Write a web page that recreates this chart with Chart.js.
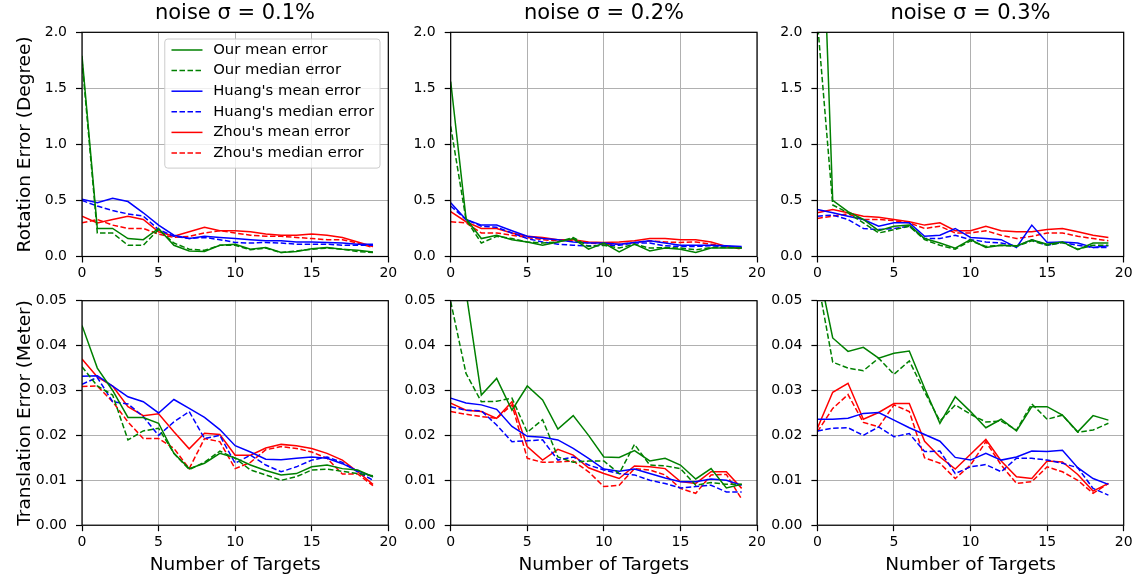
<!DOCTYPE html>
<html>
<head>
<meta charset="utf-8">
<script src="https://cdn.jsdelivr.net/npm/chart.js@4.4.0/dist/chart.umd.min.js"></script>
<style>
  body { margin: 0; background: #fff; }
  #fig { position: relative; width: 1135px; height: 579px; overflow: hidden; background: #fff; }
  #fig canvas { position: absolute; }
</style>
</head>
<body>
<div id="fig"></div>
<script>
// number of targets (x axis)
const targets = [0, 1, 2, 3, 4, 5, 6, 7, 8, 9, 10, 11, 12, 13, 14, 15, 16, 17, 18, 19];
const seriesNames = ["Our mean error", "Our median error", "Huang's mean error", "Huang's median error", "Zhou's mean error", "Zhou's median error"];
const noiseTitles = ['noise σ = 0.1%', 'noise σ = 0.2%', 'noise σ = 0.3%'];
const xTicks = [0, 5, 10, 15, 20];
const rotTicks = [0, 0.5, 1.0, 1.5, 2.0];
const transTicks = [0, 0.01, 0.02, 0.03, 0.04, 0.05];

// rotation error, noise 0.1%
const rot1OurMean = [1.79, 0.25, 0.25, 0.16, 0.15, 0.25, 0.10, 0.05, 0.045, 0.10, 0.11, 0.065, 0.08, 0.035, 0.045, 0.07, 0.08, 0.065, 0.055, 0.04];
const rot1OurMedian = [1.75, 0.21, 0.21, 0.10, 0.10, 0.24, 0.12, 0.065, 0.055, 0.10, 0.10, 0.06, 0.075, 0.035, 0.05, 0.065, 0.075, 0.065, 0.045, 0.035];
const rot1HuangMean = [0.51, 0.48, 0.52, 0.49, 0.39, 0.28, 0.19, 0.16, 0.18, 0.17, 0.16, 0.15, 0.14, 0.14, 0.13, 0.13, 0.125, 0.12, 0.11, 0.11];
const rot1HuangMedian = [0.50, 0.45, 0.41, 0.38, 0.36, 0.24, 0.18, 0.16, 0.17, 0.15, 0.125, 0.12, 0.125, 0.12, 0.11, 0.11, 0.11, 0.10, 0.10, 0.10];
const rot1ZhouMean = [0.36, 0.30, 0.33, 0.36, 0.33, 0.22, 0.18, 0.22, 0.26, 0.23, 0.23, 0.22, 0.20, 0.19, 0.19, 0.20, 0.19, 0.17, 0.13, 0.09];
const rot1ZhouMedian = [0.30, 0.33, 0.28, 0.25, 0.25, 0.20, 0.17, 0.18, 0.21, 0.23, 0.21, 0.19, 0.18, 0.18, 0.17, 0.16, 0.15, 0.15, 0.12, 0.08];

// rotation error, noise 0.2%
const rot2OurMean = [1.56, 0.34, 0.16, 0.19, 0.15, 0.13, 0.10, 0.13, 0.16, 0.065, 0.12, 0.04, 0.11, 0.05, 0.075, 0.065, 0.035, 0.075, 0.075, 0.075];
const rot2OurMedian = [1.16, 0.33, 0.12, 0.18, 0.16, 0.13, 0.12, 0.13, 0.17, 0.09, 0.10, 0.075, 0.11, 0.075, 0.08, 0.075, 0.06, 0.08, 0.08, 0.075];
const rot2HuangMean = [0.48, 0.33, 0.28, 0.28, 0.23, 0.18, 0.16, 0.15, 0.13, 0.12, 0.12, 0.11, 0.125, 0.14, 0.12, 0.10, 0.10, 0.10, 0.095, 0.09];
const rot2HuangMedian = [0.45, 0.33, 0.27, 0.26, 0.21, 0.16, 0.13, 0.11, 0.10, 0.095, 0.10, 0.10, 0.12, 0.12, 0.095, 0.09, 0.09, 0.095, 0.09, 0.08];
const rot2ZhouMean = [0.40, 0.31, 0.25, 0.25, 0.21, 0.18, 0.17, 0.15, 0.15, 0.13, 0.125, 0.13, 0.14, 0.16, 0.16, 0.15, 0.15, 0.13, 0.09, 0.075];
const rot2ZhouMedian = [0.31, 0.30, 0.21, 0.21, 0.19, 0.17, 0.15, 0.14, 0.14, 0.12, 0.11, 0.11, 0.125, 0.14, 0.13, 0.125, 0.13, 0.11, 0.09, 0.065];

// rotation error, noise 0.3%
const rot3OurMean = [4.35, 0.50, 0.40, 0.33, 0.23, 0.27, 0.28, 0.16, 0.12, 0.075, 0.15, 0.08, 0.10, 0.095, 0.15, 0.11, 0.13, 0.06, 0.12, 0.12];
const rot3OurMedian = [2.1, 0.46, 0.39, 0.30, 0.21, 0.24, 0.27, 0.15, 0.10, 0.065, 0.14, 0.09, 0.10, 0.09, 0.14, 0.10, 0.125, 0.065, 0.10, 0.10];
const rot3HuangMean = [0.42, 0.39, 0.36, 0.33, 0.27, 0.30, 0.30, 0.18, 0.19, 0.25, 0.17, 0.16, 0.15, 0.08, 0.28, 0.125, 0.13, 0.12, 0.08, 0.095];
const rot3HuangMedian = [0.36, 0.37, 0.33, 0.25, 0.24, 0.25, 0.27, 0.16, 0.16, 0.19, 0.15, 0.13, 0.12, 0.09, 0.15, 0.10, 0.125, 0.10, 0.08, 0.08];
const rot3ZhouMean = [0.39, 0.42, 0.39, 0.36, 0.35, 0.33, 0.31, 0.28, 0.30, 0.23, 0.23, 0.27, 0.23, 0.22, 0.22, 0.24, 0.25, 0.22, 0.19, 0.17];
const rot3ZhouMedian = [0.34, 0.36, 0.38, 0.33, 0.33, 0.32, 0.30, 0.25, 0.27, 0.21, 0.21, 0.23, 0.19, 0.16, 0.18, 0.21, 0.21, 0.18, 0.16, 0.14];

// translation error, noise 0.1%
const trans1OurMean = [0.0445, 0.035, 0.030, 0.024, 0.024, 0.0227, 0.016, 0.0126, 0.0138, 0.016, 0.015, 0.0134, 0.0122, 0.0112, 0.0115, 0.013, 0.0134, 0.0126, 0.0123, 0.0108];
const trans1OurMedian = [0.0353, 0.031, 0.029, 0.019, 0.021, 0.0216, 0.016, 0.0124, 0.014, 0.0165, 0.0149, 0.0123, 0.0112, 0.010, 0.0108, 0.0123, 0.0125, 0.012, 0.0115, 0.011];
const trans1HuangMean = [0.0332, 0.0333, 0.031, 0.0286, 0.0275, 0.025, 0.028, 0.026, 0.024, 0.0213, 0.0177, 0.0163, 0.0147, 0.0146, 0.0149, 0.0152, 0.0149, 0.0137, 0.0121, 0.0108];
const trans1HuangMedian = [0.0314, 0.0329, 0.0275, 0.027, 0.0242, 0.020, 0.023, 0.0253, 0.0193, 0.020, 0.0138, 0.0156, 0.0134, 0.0119, 0.013, 0.0145, 0.0152, 0.014, 0.0119, 0.010];
const trans1ZhouMean = [0.037, 0.033, 0.031, 0.0264, 0.0244, 0.0248, 0.0208, 0.017, 0.0205, 0.0202, 0.0156, 0.0156, 0.0172, 0.018, 0.0177, 0.0171, 0.016, 0.0145, 0.0119, 0.0091];
const trans1ZhouMedian = [0.0309, 0.031, 0.0275, 0.023, 0.0193, 0.0193, 0.0171, 0.0126, 0.0193, 0.0186, 0.0126, 0.014, 0.0168, 0.0175, 0.0171, 0.0163, 0.0149, 0.0114, 0.0114, 0.0088];

// translation error, noise 0.2%
const trans2OurMean = [0.07, 0.052, 0.029, 0.0327, 0.0256, 0.031, 0.0279, 0.0214, 0.0244, 0.020, 0.0152, 0.0151, 0.0166, 0.0143, 0.0149, 0.0134, 0.0103, 0.0126, 0.0083, 0.0091];
const trans2OurMedian = [0.0498, 0.0338, 0.0275, 0.0276, 0.0283, 0.0207, 0.0235, 0.0152, 0.014, 0.0143, 0.0143, 0.0115, 0.018, 0.0134, 0.0132, 0.0126, 0.0089, 0.0095, 0.0091, 0.0091];
const trans2HuangMean = [0.0283, 0.0272, 0.0268, 0.0258, 0.022, 0.0198, 0.0196, 0.019, 0.0171, 0.0149, 0.0125, 0.012, 0.0125, 0.0115, 0.0105, 0.0097, 0.0097, 0.0103, 0.010, 0.0089];
const trans2HuangMedian = [0.0264, 0.0256, 0.0255, 0.0223, 0.0186, 0.0188, 0.019, 0.0145, 0.0152, 0.0134, 0.0123, 0.0115, 0.0112, 0.010, 0.0093, 0.0083, 0.0086, 0.0089, 0.0074, 0.0074];
const trans2ZhouMean = [0.0272, 0.0256, 0.0253, 0.0238, 0.0275, 0.0175, 0.0145, 0.0169, 0.0156, 0.0128, 0.0115, 0.0104, 0.0132, 0.013, 0.0126, 0.0097, 0.0093, 0.0119, 0.0119, 0.0082];
const trans2ZhouMedian = [0.0253, 0.0247, 0.0242, 0.0238, 0.0268, 0.0149, 0.014, 0.0141, 0.0143, 0.0119, 0.0086, 0.0089, 0.0126, 0.0123, 0.0112, 0.0082, 0.0071, 0.0112, 0.0113, 0.0058];

// translation error, noise 0.3%
const trans3OurMean = [0.0583, 0.0417, 0.0387, 0.0396, 0.0372, 0.0383, 0.0388, 0.0305, 0.0227, 0.0286, 0.0253, 0.0217, 0.0236, 0.021, 0.0264, 0.0264, 0.0245, 0.0208, 0.0244, 0.0234];
const trans3OurMedian = [0.055, 0.0363, 0.035, 0.0344, 0.0372, 0.0336, 0.0366, 0.0297, 0.0232, 0.0268, 0.0247, 0.023, 0.0232, 0.0212, 0.027, 0.0236, 0.0245, 0.0207, 0.0212, 0.0227];
const trans3HuangMean = [0.0236, 0.0236, 0.0238, 0.0249, 0.0251, 0.0234, 0.0217, 0.0202, 0.0187, 0.0151, 0.0145, 0.016, 0.0145, 0.0152, 0.0165, 0.0164, 0.0167, 0.0128, 0.0104, 0.0091];
const trans3HuangMedian = [0.021, 0.0216, 0.0217, 0.020, 0.0219, 0.0197, 0.0204, 0.0164, 0.0165, 0.0115, 0.013, 0.0135, 0.0119, 0.0149, 0.0149, 0.0145, 0.0138, 0.0128, 0.0082, 0.0067];
const trans3ZhouMean = [0.0216, 0.0296, 0.0316, 0.0236, 0.0251, 0.0271, 0.0271, 0.0187, 0.0152, 0.0125, 0.0158, 0.0191, 0.0143, 0.0108, 0.0104, 0.0143, 0.0141, 0.0113, 0.0076, 0.0093];
const trans3ZhouMedian = [0.0208, 0.026, 0.0291, 0.0229, 0.0219, 0.0268, 0.0253, 0.015, 0.0138, 0.0104, 0.0134, 0.0186, 0.0134, 0.0093, 0.0097, 0.013, 0.0119, 0.010, 0.0071, 0.0093];

const panels = [
  {row: 0, col: 0, series: [rot1OurMean, rot1OurMedian, rot1HuangMean, rot1HuangMedian, rot1ZhouMean, rot1ZhouMedian]},
  {row: 0, col: 1, series: [rot2OurMean, rot2OurMedian, rot2HuangMean, rot2HuangMedian, rot2ZhouMean, rot2ZhouMedian]},
  {row: 0, col: 2, series: [rot3OurMean, rot3OurMedian, rot3HuangMean, rot3HuangMedian, rot3ZhouMean, rot3ZhouMedian]},
  {row: 1, col: 0, series: [trans1OurMean, trans1OurMedian, trans1HuangMean, trans1HuangMedian, trans1ZhouMean, trans1ZhouMedian]},
  {row: 1, col: 1, series: [trans2OurMean, trans2OurMedian, trans2HuangMean, trans2HuangMedian, trans2ZhouMean, trans2ZhouMedian]},
  {row: 1, col: 2, series: [trans3OurMean, trans3OurMedian, trans3HuangMean, trans3HuangMedian, trans3ZhouMean, trans3ZhouMedian]}
];

// ---- styling / layout ----
const FONT = "'DejaVu Sans', 'Liberation Sans', sans-serif";
const lineColors = ['#008000', '#008000', '#0000ff', '#0000ff', '#ff0000', '#ff0000'];
const lineDash = [[], [5.5, 2.5], [], [5.5, 2.5], [], [5.5, 2.5]];
const plotLeft = [82, 450.7, 817.4];
const plotW = 306.3;
const plotTop = [32.3, 300.7];
const plotBottom = [256.5, 525.2];
const canvasTop = [0, 270];
const canvasBottom = [290, 579];
const TITLE_SIZE = 21;

Chart.defaults.font.family = FONT;
Chart.defaults.color = '#000';

// black box around the axes, drawn over the lines like matplotlib spines
const framePlugin = {
  id: 'frame',
  afterDatasetsDraw(chart) {
    const {ctx, chartArea: a} = chart;
    ctx.save();
    ctx.strokeStyle = '#000';
    ctx.lineWidth = 1.2;
    ctx.strokeRect(a.left, a.top, a.right - a.left, a.bottom - a.top);
    ctx.restore();
  }
};

// matplotlib-like legend box in the upper right of the axes
const boxLegendPlugin = {
  id: 'boxLegend',
  afterDraw(chart, args, opts) {
    if (!opts.show) return;
    const {ctx, chartArea: a} = chart;
    const fs = 14.8, rowH = 20.6, handle = 31, padL = 6.7, gap = 10.7, padR = 6;
    ctx.save();
    ctx.font = fs + 'px ' + FONT;
    const ds = chart.data.datasets;
    const textW = Math.max(...ds.map(d => ctx.measureText(d.label).width));
    const w = padL + handle + gap + textW + padR;
    const h = rowH * ds.length + 5.5;
    const x = a.right - 8.3 - w, y = a.top + 6.7;
    ctx.beginPath();
    ctx.roundRect(x, y, w, h, 3);
    ctx.fillStyle = 'rgba(255,255,255,0.8)';
    ctx.fill();
    ctx.strokeStyle = '#cccccc';
    ctx.lineWidth = 1;
    ctx.stroke();
    ds.forEach((d, i) => {
      const cy = y + 11 + i * rowH;
      ctx.beginPath();
      ctx.setLineDash(d.borderDash);
      ctx.strokeStyle = d.borderColor;
      ctx.lineWidth = d.borderWidth;
      ctx.moveTo(x + padL, cy);
      ctx.lineTo(x + padL + handle, cy);
      ctx.stroke();
      ctx.setLineDash([]);
      ctx.fillStyle = '#000';
      ctx.textBaseline = 'middle';
      ctx.fillText(d.label, x + padL + handle + gap, cy);
    });
    ctx.restore();
  }
};

const fig = document.getElementById('fig');

panels.forEach(p => {
  const yW0 = p.col === 0 ? 82 : 52;
  const left = Math.floor(plotLeft[p.col] - yW0);
  const yW = plotLeft[p.col] - left;
  const width = Math.round(2 * yW + plotW);
  const padRight = width - yW - plotW;
  const top = canvasTop[p.row];
  const height = canvasBottom[p.row] - top;
  const xH = canvasBottom[p.row] - plotBottom[p.row];
  const chartTop = plotTop[p.row] - top;

  const canvas = document.createElement('canvas');
  canvas.width = width;
  canvas.height = height;
  canvas.style.left = left + 'px';
  canvas.style.top = top + 'px';
  canvas.style.width = width + 'px';
  canvas.style.height = height + 'px';
  fig.appendChild(canvas);

  const isRot = p.row === 0;
  const yTicks = isRot ? rotTicks : transTicks;

  const datasets = p.series.map((vals, i) => ({
    label: seriesNames[i],
    data: vals.map((v, k) => ({x: targets[k], y: v})),
    borderColor: lineColors[i],
    borderDash: lineDash[i],
    borderWidth: 1.5,
    pointRadius: 0,
    tension: 0,
    fill: false
  }));

  new Chart(canvas, {
    type: 'line',
    data: {datasets},
    plugins: [framePlugin, boxLegendPlugin],
    options: {
      responsive: false,
      animation: false,
      devicePixelRatio: 1,
      layout: {
        autoPadding: false,
        padding: {left: 0, right: 0, top: isRot ? 0 : chartTop, bottom: 0}
      },
      plugins: {
        legend: {display: false},
        tooltip: {enabled: false},
        boxLegend: {show: p.row === 0 && p.col === 0},
        title: {
          display: isRot,
          text: noiseTitles[p.col],
          color: '#000',
          font: {family: FONT, size: TITLE_SIZE, weight: 'normal', lineHeight: 1.2},
          padding: {top: 1, bottom: chartTop - 1 - TITLE_SIZE * 1.2}
        }
      },
      scales: {
        x: {
          type: 'linear',
          min: 0,
          max: 20,
          afterBuildTicks: s => { s.ticks = xTicks.map(v => ({value: v})); },
          afterFit: s => { s.height = xH; },
          ticks: {
            autoSkip: false,
            maxRotation: 0,
            padding: 2.5,
            color: '#000',
            font: {family: FONT, size: 14},
            callback: v => String(v)
          },
          grid: {color: '#b0b0b0', lineWidth: 1, tickColor: '#000', tickLength: 6, tickWidth: 1.2},
          border: {display: false},
          title: {
            display: p.row === 1,
            text: 'Number of Targets',
            color: '#000',
            font: {family: FONT, size: 18.5},
            padding: {top: 0, bottom: 2.7}
          }
        },
        y: {
          type: 'linear',
          min: 0,
          max: isRot ? 2.0 : 0.05,
          afterBuildTicks: s => { s.ticks = yTicks.map(v => ({value: v})); },
          afterFit: s => { s.width = yW; },
          ticks: {
            autoSkip: false,
            padding: 9,
            color: '#000',
            font: {family: FONT, size: 14},
            callback: v => v.toFixed(isRot ? 1 : 2)
          },
          grid: {color: '#b0b0b0', lineWidth: 1, tickColor: '#000', tickLength: 6, tickWidth: 1.2},
          border: {display: false},
          title: {
            display: p.col === 0,
            text: isRot ? 'Rotation Error (Degree)' : 'Translation Error (Meter)',
            color: '#000',
            font: {family: FONT, size: 18.5},
            padding: {top: 14, bottom: 0}
          }
        },
        // empty spacer on the right so the title centres over the plot
        spacer: {
          type: 'linear',
          position: 'right',
          min: 0,
          max: 1,
          afterFit: s => { s.width = padRight; },
          ticks: {display: false},
          grid: {display: false, drawTicks: false},
          border: {display: false}
        }
      }
    }
  });
});
</script>
</body>
</html>
